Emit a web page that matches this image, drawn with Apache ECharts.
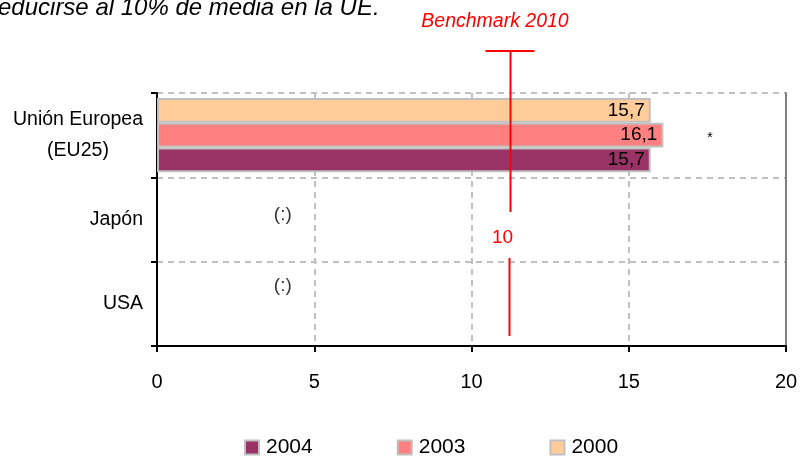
<!DOCTYPE html>
<html>
<head>
<meta charset="utf-8">
<script src="https://cdn.jsdelivr.net/npm/echarts@6/dist/echarts.min.js"></script>
<style>
  html, body { margin: 0; padding: 0; background: #fff; }
  #chart { width: 800px; height: 457px; }
</style>
</head>
<body>
<div id="chart"></div>
<script>
// datos
var categories = ['Unión Europea\n(EU25)', 'Japón', 'USA'];
var seriesNames = ['2000', '2003', '2004'];
var values2000 = [15.7, null, null];
var values2003 = [16.1, null, null];
var values2004 = [15.7, null, null];
var xTicks = [0, 5, 10, 15, 20];
var missingMarks = [[4, 'Japón'], [4, 'USA']];
var missingOffsets = [-5, -18];
var benchmarkPos = 11.24;
var benchmarkLabel = '10';

var colors = { '2000': '#FFCC99', '2003': '#FF8080', '2004': '#993366' };
var FONT = 'Liberation Sans';

var chart = echarts.init(document.getElementById('chart'));

function barSeries(name, data) {
    return {
        name: name,
        type: 'bar',
        data: data,
        barGap: '0%',
        barCategoryGap: '12%',
        itemStyle: {
            color: colors[name],
            borderColor: '#c0c0c0',
            borderWidth: 2
        },
        label: {
            show: true,
            position: 'insideRight',
            distance: 6,
            color: '#000',
            fontFamily: FONT,
            fontSize: 19,
            formatter: function (p) { return String(p.value).replace('.', ','); }
        }
    };
}

chart.setOption({
    animation: false,
    grid: { left: 157, right: 14, top: 93, bottom: 111, outerBoundsMode: 'none' },
    legend: {
        data: ['2004', '2003', '2000'],
        left: 239,
        top: 432,
        itemWidth: 14,
        itemHeight: 14,
        itemGap: 84,
        icon: 'rect',
        itemStyle: { borderColor: '#c0c0c0', borderWidth: 2 },
        textStyle: { fontFamily: FONT, fontSize: 21, color: '#000', padding: [0, 0, 0, 2] }
    },
    xAxis: {
        type: 'value',
        min: xTicks[0],
        max: xTicks[xTicks.length - 1],
        interval: 5,
        axisLine: { show: true, lineStyle: { color: '#000', width: 2 } },
        axisTick: { show: true, length: 6, lineStyle: { color: '#000', width: 2 } },
        axisLabel: { margin: 26, fontFamily: FONT, fontSize: 20, color: '#000' },
        splitLine: { show: true, lineStyle: { color: '#c0c0c0', width: 2, type: [6, 5] } }
    },
    yAxis: [{
        type: 'category',
        data: categories,
        inverse: true,
        axisLine: { show: true, lineStyle: { color: '#000', width: 2 } },
        axisTick: { show: true, length: 6, lineStyle: { color: '#000', width: 2 } },
        axisLabel: {
            margin: 14,
            color: '#000',
            fontFamily: FONT,
            fontSize: 19.5,
            lineHeight: 31,
            formatter: function (v) {
                if (v.indexOf('\n') < 0) return v;
                return v.split('\n').map(function (s) { return '{c|' + s + '}'; }).join('\n');
            },
            rich: { c: { width: 130, align: 'center', fontFamily: FONT, fontSize: 19.5, lineHeight: 31, color: '#000' } }
        },
        splitLine: { show: true, lineStyle: { color: '#c0c0c0', width: 2, type: [6, 5] } }
    }, {
        type: 'category',
        data: categories,
        inverse: true,
        position: 'right',
        axisLine: { show: true, lineStyle: { color: '#808080', width: 2 } },
        axisTick: { show: false },
        axisLabel: { show: false },
        splitLine: { show: false }
    }],
    series: [
        barSeries('2000', values2000),
        barSeries('2003', values2003),
        barSeries('2004', values2004),
        {
            type: 'scatter',
            data: missingMarks.map(function (d, i) {
                return { value: d, label: { offset: [0, missingOffsets[i]] } };
            }),
            symbolSize: 0,
            silent: true,
            label: {
                show: true,
                position: 'inside',
                formatter: '(:)',
                color: '#000',
                fontFamily: FONT,
                fontSize: 19
            }
        }
    ]
});

// anotaciones: texto de cabecera, línea benchmark y asterisco
var bx = chart.convertToPixel({ xAxisIndex: 0 }, benchmarkPos);
var red = '#ff0000';
chart.setOption({
    graphic: [
        { type: 'text', left: -2, top: -4, style: { text: 'educirse al 10% de media en la UE.', fontFamily: FONT, fontStyle: 'italic', fontSize: 24, fill: '#000' } },
        { type: 'text', x: 495, y: 22, style: { text: 'Benchmark 2010', fontFamily: FONT, fontStyle: 'italic', fontSize: 19.5, fill: red, align: 'center', verticalAlign: 'middle' } },
        { type: 'line', z: 100, shape: { x1: bx - 25, y1: 51, x2: bx + 24, y2: 51 }, style: { stroke: red, lineWidth: 2 } },
        { type: 'line', z: 100, shape: { x1: bx, y1: 51, x2: bx, y2: 212 }, style: { stroke: red, lineWidth: 2 } },
        { type: 'line', z: 100, shape: { x1: bx - 1, y1: 258, x2: bx - 1, y2: 336 }, style: { stroke: red, lineWidth: 2 } },
        { type: 'text', x: bx - 8, y: 238, style: { text: benchmarkLabel, fontFamily: FONT, fontSize: 19, fill: red, align: 'center', verticalAlign: 'middle' } },
        { type: 'text', x: 710, y: 138, style: { text: '*', fontFamily: FONT, fontSize: 14, fill: '#000', align: 'center', verticalAlign: 'middle' } }
    ]
});
</script>
</body>
</html>
